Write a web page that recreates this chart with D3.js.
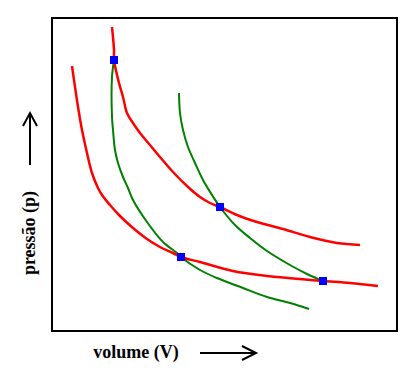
<!DOCTYPE html>
<html>
<head>
<meta charset="utf-8">
<script src="https://cdn.jsdelivr.net/npm/d3@7"></script>
<style>
  body { margin: 0; background: #fff; }
  svg { display: block; }
  .lbl { font-family: "Liberation Serif", "Times New Roman", serif; font-weight: bold; font-size: 18px; }
</style>
</head>
<body>
<div id="chart"></div>
<script>
// values, in the picture's own units (V right, p up)
const isoLow = [[20,265],[23,244],[27,218],[30,201],[35,178],[40,158],[46,143],[50,136],[58,126],[68,115],[81,103],[95,92],[108,84],[121,78],[129,74],[148,69],[181,60],[215,55],[248,52],[271,50],[298,48],[326,45]];
const isoHigh = [[60,304],[62,281],[62,271],[67,248],[71,234],[75,218],[81,208],[88,198],[98,186],[108,174],[121,159],[136,144],[148,134],[158,128],[168,124],[185,116],[205,109],[231,102],[258,94],[285,88],[308,86]];
const adiaLeft = [[62,271],[60,254],[60,214],[61,201],[63,181],[66,168],[71,154],[76,143],[81,131],[95,109],[111,89],[125,78],[129,74],[148,61],[165,53],[191,43],[215,34],[238,28],[257,22]];
const adiaRight = [[127,238],[128,218],[131,201],[136,184],[143,168],[151,151],[160,136],[168,124],[183,106],[198,93],[215,80],[238,66],[255,57],[271,50]];
const corners = [[62,271],[168,124],[129,74],[271,50]];

const W = 417, H = 374;
const box = {left: 52, top: 18, right: 397, bottom: 331};

const svg = d3.select('#chart').append('svg')
  .attr('width', W)
  .attr('height', H);

const x = d3.scaleLinear().domain([0, 345]).range([box.left, box.right]);
const y = d3.scaleLinear().domain([0, 313]).range([box.bottom, box.top]);

// frame
svg.append('rect')
  .attr('x', box.left)
  .attr('y', box.top)
  .attr('width', box.right - box.left)
  .attr('height', box.bottom - box.top)
  .attr('fill', 'none')
  .attr('stroke', '#000')
  .attr('stroke-width', 2);

const line = d3.line()
  .x(d => x(d[0]))
  .y(d => y(d[1]))
  .curve(d3.curveCatmullRom);

const curves = [
  {pts: adiaLeft, color: '#008000', w: 2},
  {pts: adiaRight, color: '#008000', w: 2},
  {pts: isoLow, color: '#ff0000', w: 2.5},
  {pts: isoHigh, color: '#ff0000', w: 2.5}
];

svg.selectAll('.curve')
  .data(curves)
  .enter().append('path')
  .attr('class', 'curve')
  .attr('d', d => line(d.pts))
  .attr('fill', 'none')
  .attr('stroke', d => d.color)
  .attr('stroke-width', d => d.w);

svg.selectAll('.pt')
  .data(corners)
  .enter().append('rect')
  .attr('class', 'pt')
  .attr('x', d => x(d[0]) - 4)
  .attr('y', d => y(d[1]) - 4)
  .attr('width', 8)
  .attr('height', 8)
  .attr('fill', '#0000ff');

// axis labels
svg.append('text')
  .attr('class', 'lbl')
  .attr('transform', 'translate(35,233) rotate(-90)')
  .attr('text-anchor', 'middle')
  .text('pressão (p)');

svg.append('text')
  .attr('class', 'lbl')
  .attr('x', 136)
  .attr('y', 358)
  .attr('text-anchor', 'middle')
  .text('volume (V)');

// arrows
const arr = svg.append('g')
  .attr('stroke', '#000')
  .attr('stroke-width', 2)
  .attr('fill', 'none');

arr.append('line').attr('x1', 30).attr('y1', 165).attr('x2', 30).attr('y2', 114);
arr.append('path').attr('d', 'M23,126 L30,113 L37,126');

arr.append('line').attr('x1', 200).attr('y1', 353).attr('x2', 255).attr('y2', 353);
arr.append('path').attr('d', 'M242,346 L256,353 L242,360');
</script>
</body>
</html>
